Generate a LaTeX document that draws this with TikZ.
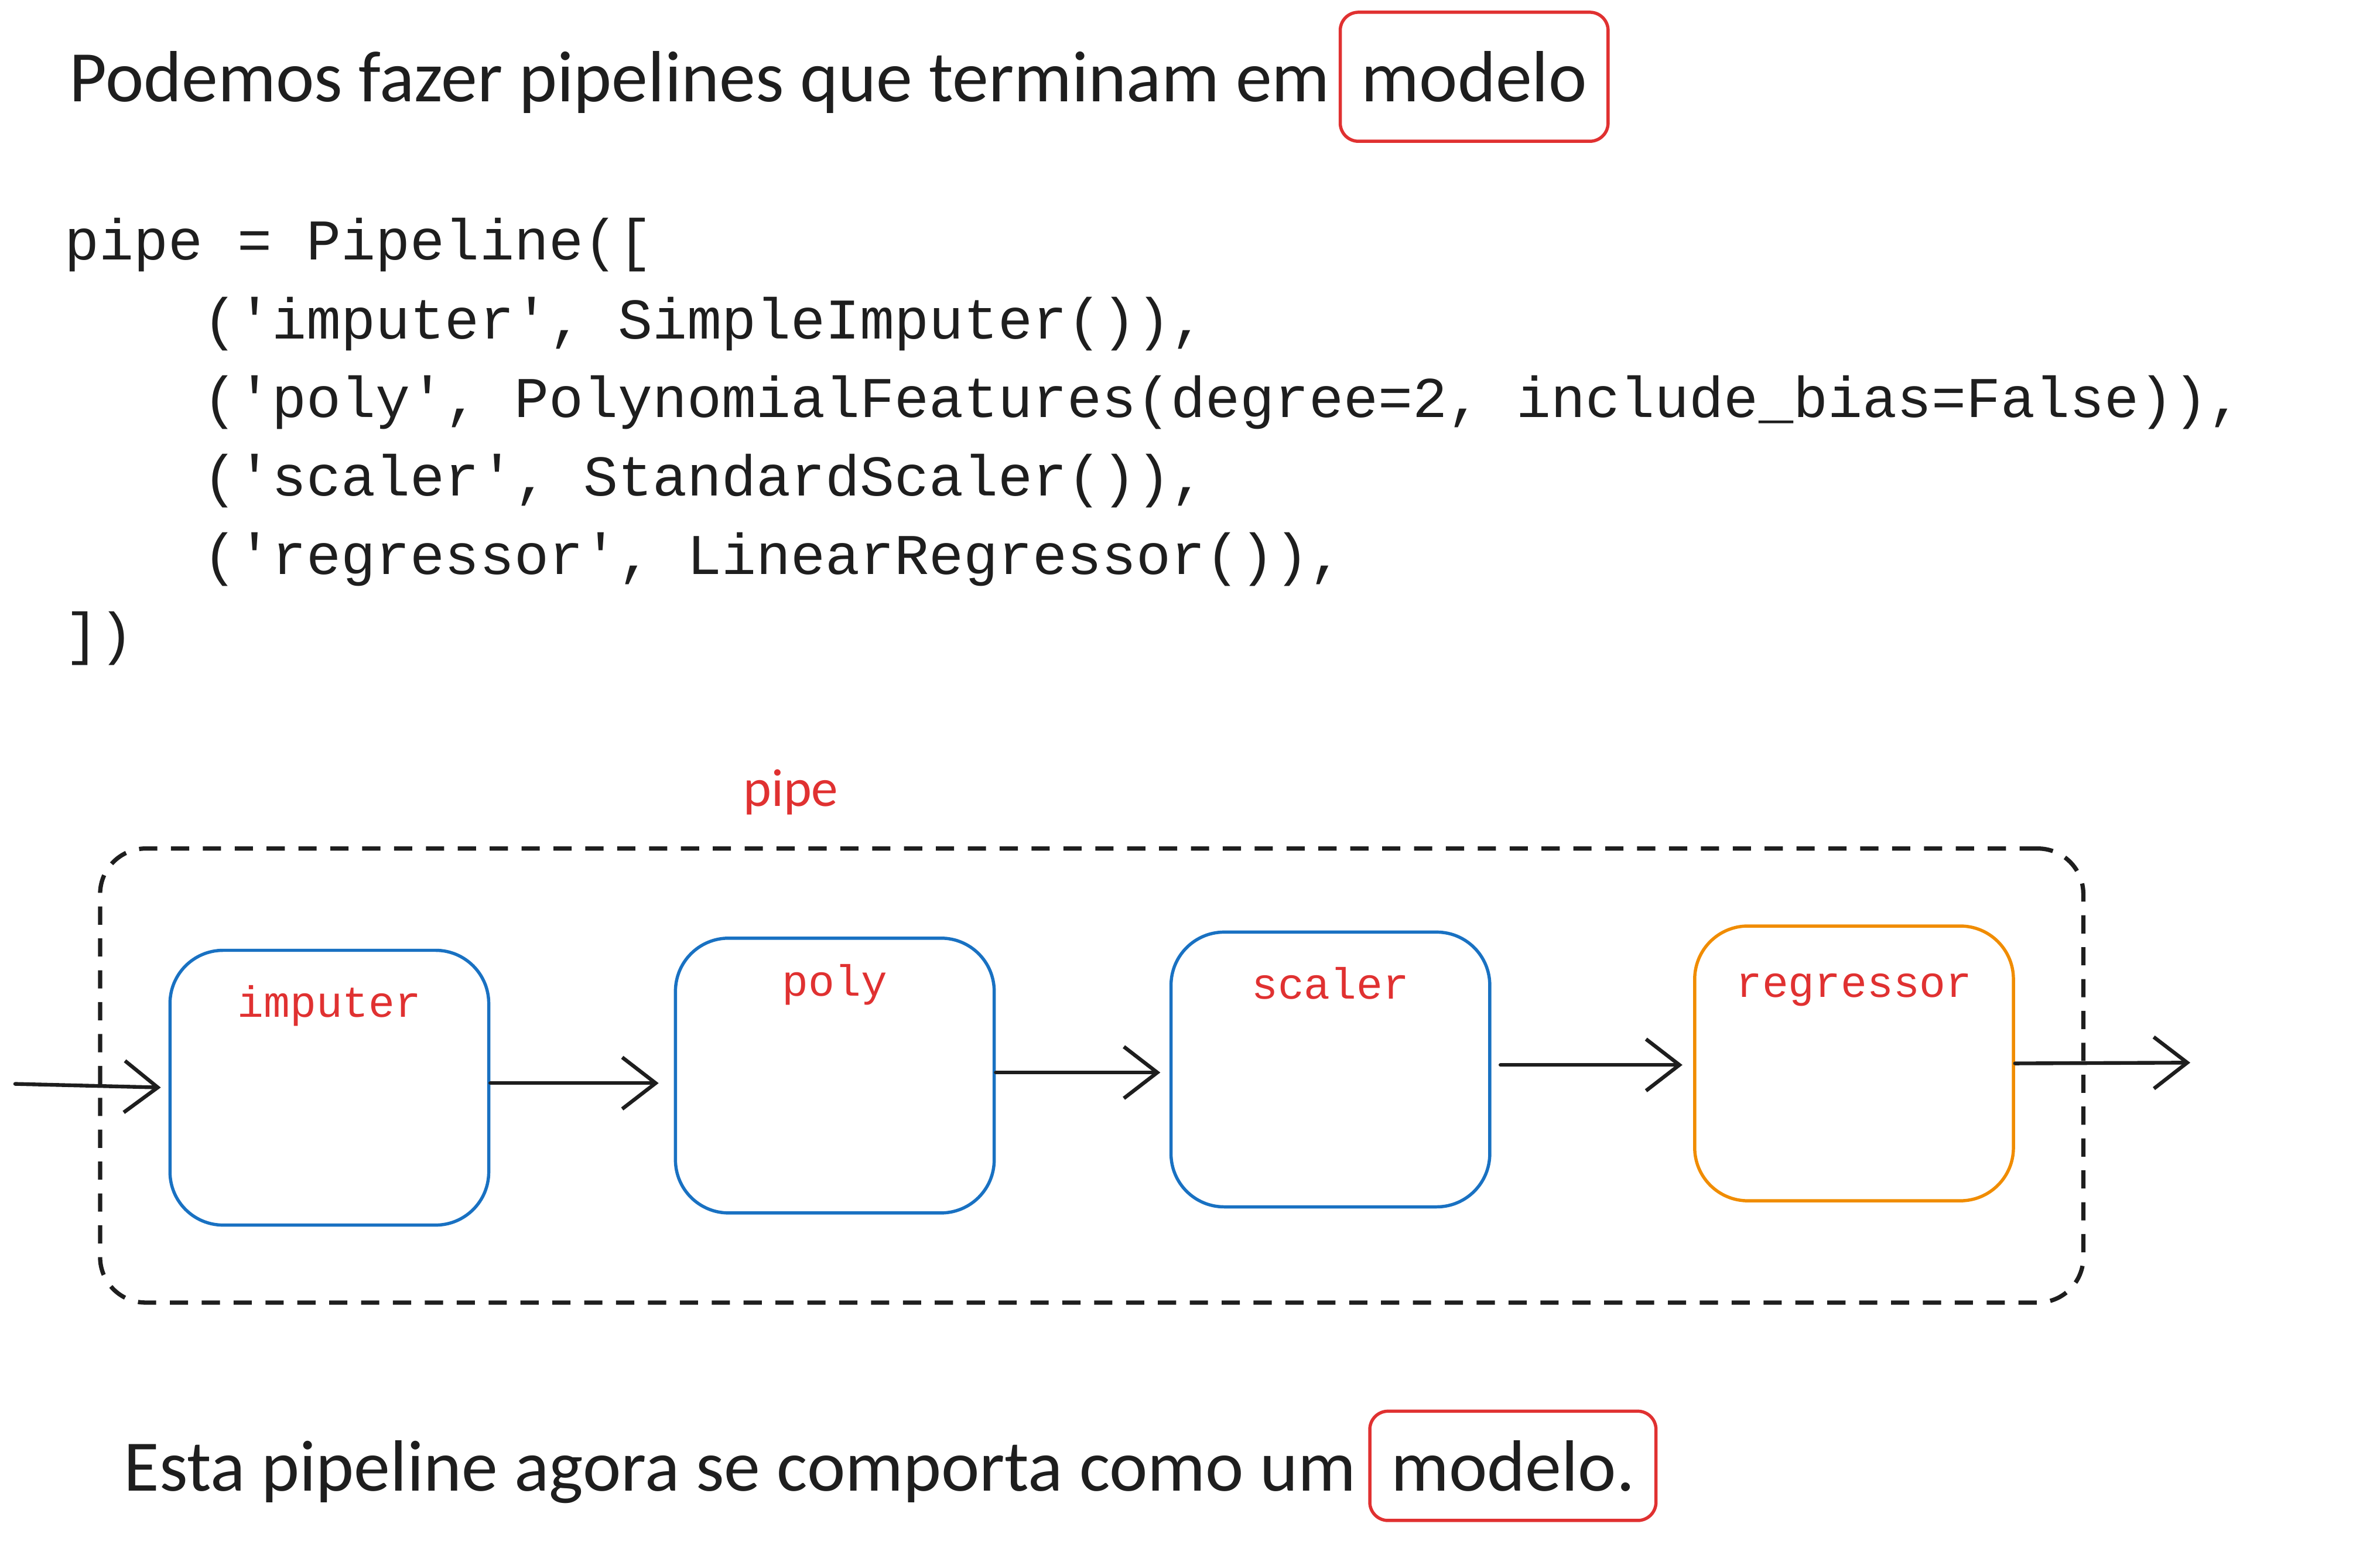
\documentclass[tikz,border=0pt]{standalone}
\usepackage{fontspec}
\setmainfont{Carlito}
\setmonofont{Liberation Mono}
\usepackage{xcolor}
\usetikzlibrary{arrows.meta, positioning, fit}

\definecolor{exred}{HTML}{E03131}
\definecolor{exblue}{HTML}{1971C2}
\definecolor{exorange}{HTML}{F08C00}
\definecolor{exink}{HTML}{1E1E1E}

\tikzset{
  hand/.style={font=\fontsize{13.6}{16}\selectfont, text=exink, inner sep=0pt},
  hilite/.style={draw=exred, line width=0.6pt, rounded corners=0.12cm, inner xsep=0.14cm, minimum height=0.85cm},
  code/.style={font=\ttfamily\fontsize{10.8}{14.74}\selectfont, text=exink, align=left, inner sep=0pt},
  stage/.style={draw=exblue, line width=0.6pt, rounded corners=0.35cm, minimum width=2.1cm, minimum height=1.81cm},
  stagelbl/.style={text=exred, font=\ttfamily\fontsize{8.2}{10}\selectfont, inner sep=0pt, anchor=base},
  pipebox/.style={draw=exink, line width=0.8pt, dash pattern=on 0.12cm off 0.09cm, rounded corners=0.3cm, inner xsep=0.45cm, inner ysep=0.5cm},
  flow/.style={draw=exink, line width=0.7pt, line cap=round, -{Straight Barb[length=2.2mm,width=3.4mm]}},
}

\begin{document}
\begin{tikzpicture}[x=0.1mm, y=-0.1mm]
\useasboundingbox (0,0) rectangle (1568,1015);

% Title
\node[hand, anchor=base west] (title) at (45,67) {Podemos fazer pipelines que terminam em};
\node[hand, hilite, base right=0.05cm of title] (titlemod) {modelo};

% Code
\node[code, anchor=north west] (code) at (42,143) {pipe = Pipeline([\\
\hspace*{2.4em}('imputer', SimpleImputer()),\\
\hspace*{2.4em}('poly', PolynomialFeatures(degree=2, include\_bias=False)),\\
\hspace*{2.4em}('scaler', StandardScaler()),\\
\hspace*{2.4em}('regressor', LinearRegressor()),\\
])};

% Pipeline stages
\node[stage] (imp) at (217,716.5) {};
\node[stage] (poly) at (550,708.5) {};
\node[stage] (scal) at (876.5,704.5) {};
\node[stage, draw=exorange] (reg) at (1221.5,700.5) {};

\node[stagelbl] (implbl) at ([yshift=-0.45cm]imp.north) {imputer};
\node[stagelbl] (polylbl) at ([yshift=-0.39cm]poly.north) {poly};
\node[stagelbl] (scallbl) at ([yshift=-0.45cm]scal.north) {scaler};
\node[stagelbl] (reglbl) at ([yshift=-0.48cm]reg.north) {regressor};

% Dashed pipe
\node[pipebox, fit=(imp)(poly)(scal)(reg)] (pipe) {};
\node[hand, text=exred, font=\fontsize{10}{12}\selectfont, anchor=base] (pipelbl) at (521,531) {pipe};

% Connectors
\coordinate (in) at (10,714);
\coordinate (out) at (1443,700);
\draw[flow, shorten >=0.05cm] (in) -- (imp.west);
\draw[flow, shorten >=0.1cm] ([yshift=0.03cm]imp.east) -- ([yshift=0.03cm]imp.east -| poly.west);
\draw[flow, shorten >=0.06cm] ([yshift=0.02cm]poly.east) -- ([yshift=0.02cm]poly.east -| scal.west);
\draw[flow, shorten <=0.06cm, shorten >=0.07cm] ([yshift=0.03cm]scal.east) -- ([yshift=0.03cm]scal.east -| reg.west);
\draw[flow] (reg.east) -- (out);

% Bottom note
\node[hand, anchor=base west] (note) at (81,982) {Esta pipeline agora se comporta como um};
\node[hand, hilite, minimum height=0.72cm, base right=0.07cm of note] (notemod) {modelo.};
\end{tikzpicture}
\end{document}
